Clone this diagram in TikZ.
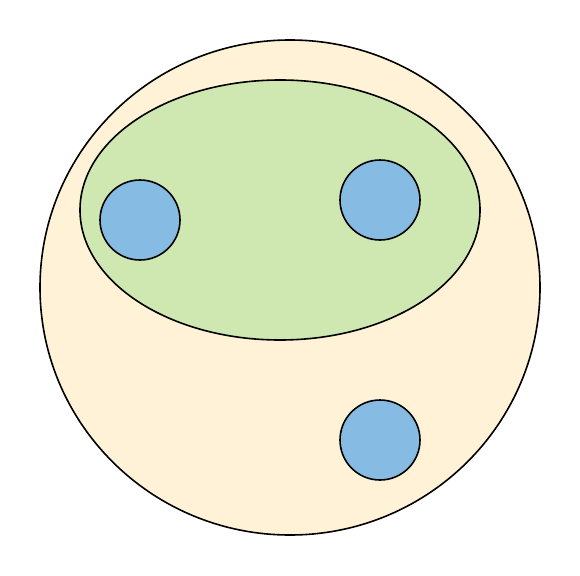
\documentclass[tikz,border=0pt]{standalone}
\usepackage{tikz}
\usetikzlibrary{shapes.geometric}

\definecolor{outerfill}{HTML}{FFF2D6}
\definecolor{innerfill}{HTML}{CFE8B2}
\definecolor{dotfill}{HTML}{86BBE3}

\begin{document}
\begin{tikzpicture}[x=1pt, y=-1pt,
    region/.style={draw, line width=1.6pt, inner sep=0pt},
    dot/.style={region, circle, fill=dotfill, minimum size=80pt}]
    \useasboundingbox (0,0) rectangle (580,575);

    \node[region, ellipse, fill=outerfill, minimum width=500pt, minimum height=495pt] (outer) at (290,287.5) {};
    \node[region, ellipse, fill=innerfill, minimum width=400pt, minimum height=260pt] (inner) at (280,210) {};

    \node[dot] (left)  at (140,220) {};
    \node[dot] (right) at (380,200) {};
    \node[dot] (lower) at (380,440) {};
    \end{tikzpicture}
\end{document}
